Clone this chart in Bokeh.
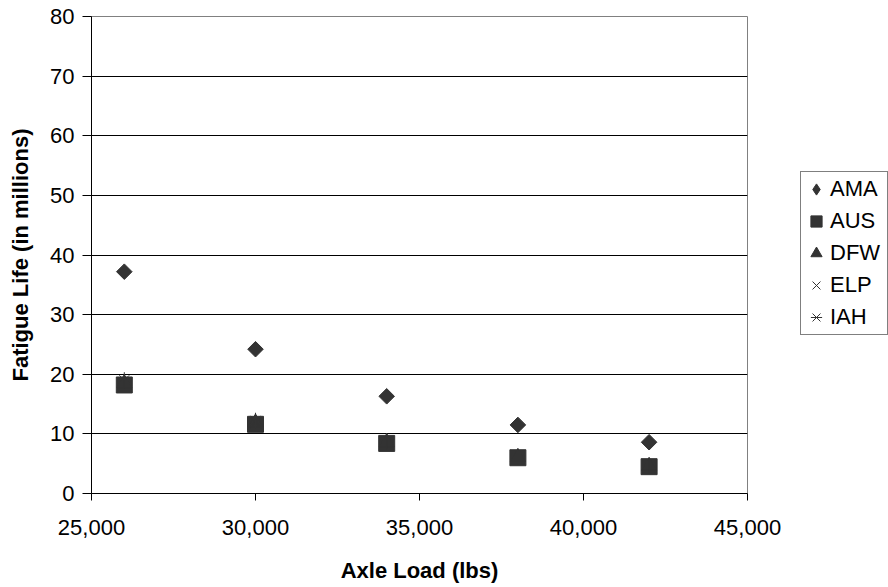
import math
from bokeh.plotting import figure
from bokeh.layouts import row
from bokeh.models import (Range1d, SingleIntervalTicker, NumeralTickFormatter,
                          Legend, LegendItem)
from bokeh.embed import file_html
from bokeh.resources import INLINE

# ---- data ----
axle_load = [26000, 30000, 34000, 38000, 42000]
ama = [37.2, 24.2, 16.3, 11.5, 8.6]
aus = [18.2, 11.6, 8.4, 6.0, 4.5]
dfw = [18.5, 11.9, 8.6, 6.1, 4.6]
elp = [18.4, 11.8, 8.5, 6.1, 4.6]
iah = [19.0, 12.2, 8.8, 6.2, 4.7]
series_names = ["AMA", "AUS", "DFW", "ELP", "IAH"]

x_title = "Axle Load (lbs)"
y_title = "Fatigue Life (in millions)"

FONT = "Liberation Sans"
MC = "#333333"

# ---------------- main chart ----------------
p = figure(width=800, height=587, output_backend="svg", toolbar_location=None,
           x_range=Range1d(25000, 45000), y_range=Range1d(0, 80),
           min_border_left=91, min_border_right=53, min_border_top=16,
           min_border_bottom=94, background_fill_color="white",
           border_fill_color="white")

p.outline_line_color = "#808080"
p.outline_line_width = 1

p.xaxis.ticker = SingleIntervalTicker(interval=5000)
p.xaxis.formatter = NumeralTickFormatter(format="0,0")
p.yaxis.ticker = SingleIntervalTicker(interval=10)
for ax in (p.xaxis[0], p.yaxis[0]):
    ax.axis_line_color = "black"
    ax.axis_line_width = 1
    ax.major_tick_line_color = "black"
    ax.minor_tick_line_color = None
    ax.major_tick_in = 0
    ax.major_label_text_font = FONT
    ax.major_label_text_font_size = "22px"
    ax.major_label_text_color = "black"
    ax.axis_label_text_font = FONT
    ax.axis_label_text_font_size = "22px"
    ax.axis_label_text_font_style = "bold"
    ax.axis_label_text_color = "black"
p.xaxis.major_tick_out = 7
p.yaxis.major_tick_out = 9
p.xaxis.major_label_standoff = 19
p.yaxis.major_label_standoff = 8
p.xaxis.axis_label = x_title
p.yaxis.axis_label = y_title
p.xaxis.axis_label_standoff = 20
p.yaxis.axis_label_standoff = 14

p.xgrid.grid_line_color = None
p.ygrid.ticker = SingleIntervalTicker(interval=10)
p.ygrid.grid_line_color = "black"
p.ygrid.grid_line_width = 1

p.scatter(axle_load, ama, marker="square", angle=math.pi / 4, size=11,
          fill_color=MC, line_color=MC)
p.scatter(axle_load, aus, marker="square", size=16,
          fill_color=MC, line_color=MC)
p.scatter(axle_load, dfw, marker="triangle", size=15,
          fill_color=MC, line_color=MC)
p.scatter(axle_load, elp, marker="x", size=14, line_color=MC, line_width=1)
p.scatter(axle_load, iah, marker="x", size=14, line_color=MC, line_width=1)
p.scatter(axle_load, iah, marker="dash", angle=math.pi / 2, size=16,
          line_color=MC, line_width=1)

# ---------------- legend panel ----------------
# (its frame is aligned with the chart's frame by the row layout; the
#  series are drawn here off-range only so the legend has glyphs to show)
lg = figure(width=88, height=587, output_backend="svg", toolbar_location=None,
            x_axis_type=None, y_axis_type=None,
            x_range=Range1d(0, 1), y_range=Range1d(0, 1),
            min_border_left=0, min_border_right=0, min_border_top=0,
            min_border_bottom=0, background_fill_color="white",
            border_fill_color="white")
lg.outline_line_color = None

l_ama = lg.scatter(axle_load, ama, marker="diamond", size=11,
                   fill_color=MC, line_color=MC)
l_aus = lg.scatter(axle_load, aus, marker="square", size=16,
                   fill_color=MC, line_color=MC)
l_dfw = lg.scatter(axle_load, dfw, marker="triangle", size=15,
                   fill_color=MC, line_color=MC)
l_elp = lg.scatter(axle_load, elp, marker="x", size=14, line_color=MC)
l_iah1 = lg.scatter(axle_load, iah, marker="x", size=14, line_color=MC)
l_iah2 = lg.scatter(axle_load, iah, marker="dash", angle=math.pi / 2,
                    size=16, line_color=MC)

legend = Legend(items=[
    LegendItem(label=series_names[0], renderers=[l_ama]),
    LegendItem(label=series_names[1], renderers=[l_aus]),
    LegendItem(label=series_names[2], renderers=[l_dfw]),
    LegendItem(label=series_names[3], renderers=[l_elp]),
    LegendItem(label=series_names[4], renderers=[l_iah1, l_iah2]),
], location=(0, 158))
legend.glyph_width = 28
legend.glyph_height = 32
legend.label_height = 32
legend.spacing = 0
legend.padding = 1
legend.margin = 0
legend.label_standoff = 0
legend.label_width = 56
legend.label_text_font = FONT
legend.label_text_font_size = "22px"
legend.label_text_color = "black"
legend.border_line_color = "black"
legend.border_line_width = 1
legend.background_fill_color = "white"
legend.background_fill_alpha = 1
lg.add_layout(legend, "center")

layout = row(p, lg)
open("out.html", "w").write(file_html(layout, INLINE))
